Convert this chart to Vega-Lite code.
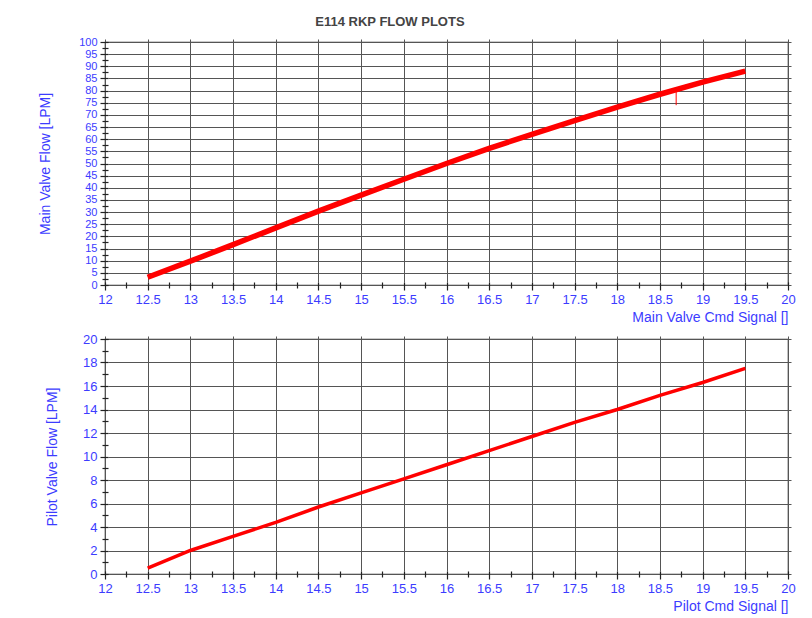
{
  "$schema": "https://vega.github.io/schema/vega-lite/v6.json",
  "background": "white",
  "padding": {"left": 38, "top": 16, "right": 14, "bottom": 4},
  "title": {"text": "E114 RKP FLOW PLOTS", "font": "Liberation Sans", "fontSize": 13, "fontWeight": "bold", "color": "#444444", "anchor": "middle", "dx": -27, "offset": 6},
  "datasets": {
    "main": [
      {"cmd": 12.5, "flow": 3.2}, {"cmd": 13.0, "flow": 9.8}, {"cmd": 13.5, "flow": 16.6},
      {"cmd": 14.0, "flow": 23.5}, {"cmd": 14.5, "flow": 30.4}, {"cmd": 15.0, "flow": 37.0},
      {"cmd": 15.5, "flow": 43.5}, {"cmd": 16.0, "flow": 50.0}, {"cmd": 16.5, "flow": 56.2},
      {"cmd": 17.0, "flow": 62.0}, {"cmd": 17.5, "flow": 67.6}, {"cmd": 18.0, "flow": 73.2},
      {"cmd": 18.5, "flow": 78.5}, {"cmd": 19.0, "flow": 83.5}, {"cmd": 19.5, "flow": 88.0}
    ],
    "spike": [
      {"cmd": 18.69, "flow": 74, "hi": 79.5}
    ],
    "pilot": [
      {"cmd": 12.5, "flow": 0.5}, {"cmd": 13.0, "flow": 2.0}, {"cmd": 13.5, "flow": 3.2},
      {"cmd": 14.0, "flow": 4.4}, {"cmd": 14.5, "flow": 5.7}, {"cmd": 15.0, "flow": 6.9},
      {"cmd": 15.5, "flow": 8.1}, {"cmd": 16.0, "flow": 9.3}, {"cmd": 16.5, "flow": 10.5},
      {"cmd": 17.0, "flow": 11.7}, {"cmd": 17.5, "flow": 12.9}, {"cmd": 18.0, "flow": 14.0},
      {"cmd": 18.5, "flow": 15.2}, {"cmd": 19.0, "flow": 16.3}, {"cmd": 19.5, "flow": 17.5}
    ]
  },
  "spacing": 7,
  "vconcat": [
    {
      "width": 683,
      "height": 243,
      "encoding": {
        "x": {
          "field": "cmd", "type": "quantitative",
          "scale": {"domain": [12, 20], "nice": false, "zero": false},
          "axis": {
            "title": "Main Valve Cmd Signal []", "titleAnchor": "end", "titlePadding": 4,
            "values": [12, 12.25, 12.5, 12.75, 13, 13.25, 13.5, 13.75, 14, 14.25, 14.5, 14.75, 15, 15.25, 15.5, 15.75, 16, 16.25, 16.5, 16.75, 17, 17.25, 17.5, 17.75, 18, 18.25, 18.5, 18.75, 19, 19.25, 19.5, 19.75, 20],
            "labelExpr": "datum.value % 0.5 == 0 ? '' + datum.value : ''",
            "tickSize": {"condition": {"test": "datum.value % 0.5 != 0", "value": 6}, "value": 8},
            "gridOpacity": {"condition": {"test": "datum.value % 0.5 != 0", "value": 0}, "value": 1}
          }
        },
        "y": {
          "field": "flow", "type": "quantitative",
          "scale": {"domain": [0, 100], "nice": false},
          "axis": {
            "title": "Main Valve Flow [LPM]", "titlePadding": 26, "labelFontSize": 11,
            "values": [0, 2.5, 5, 7.5, 10, 12.5, 15, 17.5, 20, 22.5, 25, 27.5, 30, 32.5, 35, 37.5, 40, 42.5, 45, 47.5, 50, 52.5, 55, 57.5, 60, 62.5, 65, 67.5, 70, 72.5, 75, 77.5, 80, 82.5, 85, 87.5, 90, 92.5, 95, 97.5, 100],
            "labelExpr": "datum.value % 5 == 0 ? '' + datum.value : ''",
            "tickSize": {"condition": {"test": "datum.value % 5 != 0", "value": 6}, "value": 8},
            "gridOpacity": {"condition": {"test": "datum.value % 5 != 0", "value": 0}, "value": 1}
          }
        }
      },
      "layer": [
        {
          "data": {"name": "main"},
          "mark": {"type": "line", "color": "#ff0000", "strokeWidth": 5.5, "strokeCap": "butt"}
        },
        {
          "data": {"name": "spike"},
          "mark": {"type": "rule", "color": "#ff0000", "strokeWidth": 1},
          "encoding": {
            "y2": {"field": "hi"}
          }
        }
      ]
    },
    {
      "width": 683,
      "height": 235,
      "data": {"name": "pilot"},
      "mark": {"type": "line", "color": "#ff0000", "strokeWidth": 3.5, "strokeCap": "butt"},
      "encoding": {
        "x": {
          "field": "cmd", "type": "quantitative",
          "scale": {"domain": [12, 20], "nice": false, "zero": false},
          "axis": {
            "title": "Pilot Cmd Signal []", "titleAnchor": "end", "titlePadding": 4,
            "values": [12, 12.25, 12.5, 12.75, 13, 13.25, 13.5, 13.75, 14, 14.25, 14.5, 14.75, 15, 15.25, 15.5, 15.75, 16, 16.25, 16.5, 16.75, 17, 17.25, 17.5, 17.75, 18, 18.25, 18.5, 18.75, 19, 19.25, 19.5, 19.75, 20],
            "labelExpr": "datum.value % 0.5 == 0 ? '' + datum.value : ''",
            "tickSize": {"condition": {"test": "datum.value % 0.5 != 0", "value": 6}, "value": 8},
            "gridOpacity": {"condition": {"test": "datum.value % 0.5 != 0", "value": 0}, "value": 1}
          }
        },
        "y": {
          "field": "flow", "type": "quantitative",
          "scale": {"domain": [0, 20], "nice": false},
          "axis": {
            "title": "Pilot Valve Flow [LPM]", "titlePadding": 23,
            "values": [0, 1, 2, 3, 4, 5, 6, 7, 8, 9, 10, 11, 12, 13, 14, 15, 16, 17, 18, 19, 20],
            "labelExpr": "datum.value % 2 == 0 ? '' + datum.value : ''",
            "tickSize": {"condition": {"test": "datum.value % 2 != 0", "value": 6}, "value": 8},
            "gridOpacity": {"condition": {"test": "datum.value % 2 != 0", "value": 0}, "value": 1}
          }
        }
      }
    }
  ],
  "config": {
    "view": {"stroke": "#333333", "strokeWidth": 1.2},
    "axis": {
      "domain": false,
      "offset": -3,
      "tickColor": "#222222",
      "tickWidth": 1.2,
      "gridColor": "#555555",
      "gridWidth": 1,
      "labelFont": "Liberation Sans",
      "labelFontSize": 13,
      "labelColor": "#3c3cff",
      "labelPadding": 3,
      "labelOverlap": false,
      "labelFlush": false,
      "labelBound": false,
      "titleFont": "Liberation Sans",
      "titleFontSize": 14,
      "titleFontWeight": "normal",
      "titleColor": "#3c3cff"
    }
  }
}
